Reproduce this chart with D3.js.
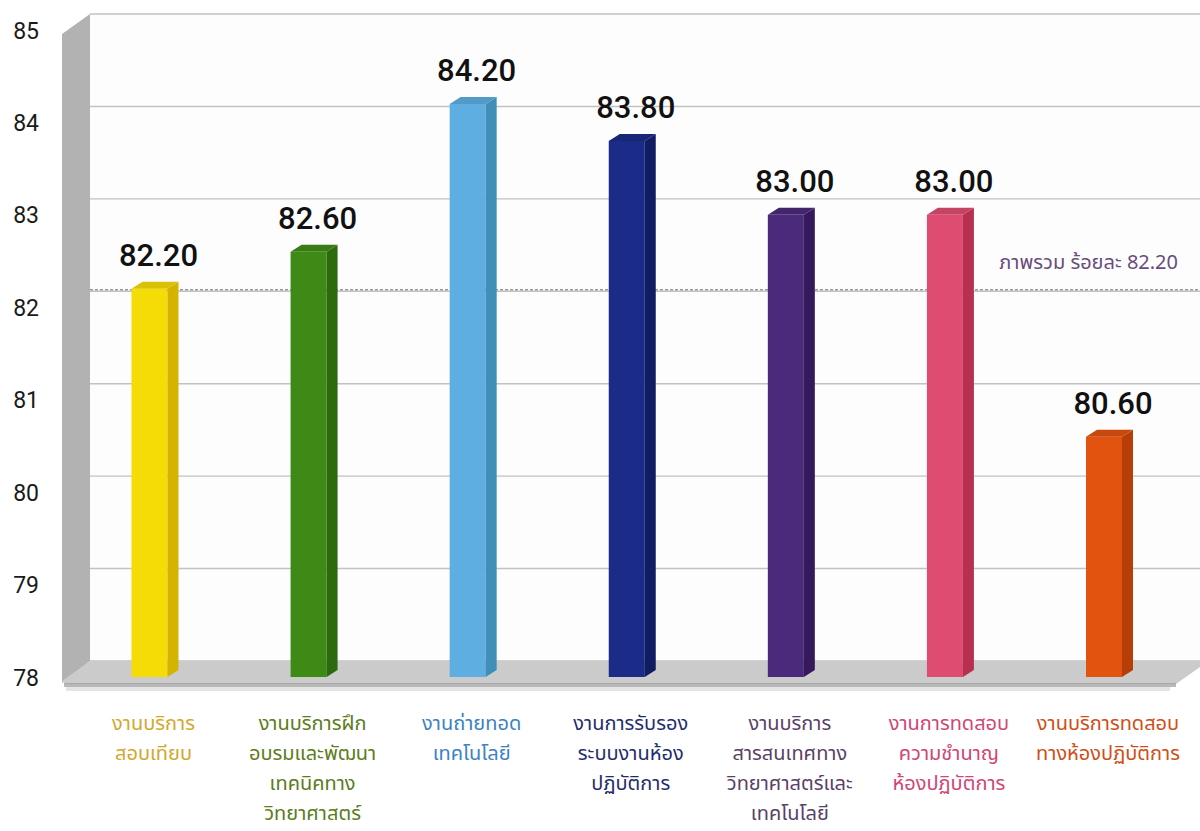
<!DOCTYPE html>
<html><head><meta charset="utf-8">
<script src="https://cdn.jsdelivr.net/npm/d3@7"></script>
<style>
html,body{margin:0;padding:0;background:#fff;}
svg{display:block;}
</style></head>
<body>
<svg id="chart" width="1200" height="831"></svg>
<script>
const categories = [
  ["งานบริการ","สอบเทียบ"],
  ["งานบริการฝึก","อบรมและพัฒนา","เทคนิคทาง","วิทยาศาสตร์"],
  ["งานถ่ายทอด","เทคโนโลยี"],
  ["งานการรับรอง","ระบบงานห้อง","ปฏิบัติการ"],
  ["งานบริการ","สารสนเทศทาง","วิทยาศาสตร์และ","เทคโนโลยี"],
  ["งานการทดสอบ","ความชำนาญ","ห้องปฏิบัติการ"],
  ["งานบริการทดสอบ","ทางห้องปฏิบัติการ"]
];
const values = [82.20, 82.60, 84.20, 83.80, 83.00, 83.00, 80.60];
const valueLabels = ["82.20","82.60","84.20","83.80","83.00","83.00","80.60"];
const yTicks = [78,79,80,81,82,83,84,85];
const overallValue = 82.20;
const overallLabel = "ภาพรวม ร้อยละ 82.20";
const frontColors = ["#f6dc06","#3f8a17","#5eaee2","#1b2b88","#4b2a7c","#df4c72","#e2530f"];
const sideColors  = ["#d4b400","#2c6a0e","#3f8fb8","#111c62","#36195c","#b8304f","#b83e08"];
const labelColors = ["#d2a82e","#5c7c1c","#3d82c4","#1f2d6d","#5a3f68","#cf4677","#cf4e16"];

const svg = d3.select("#chart");
const ids = categories.map((c,i)=>"c"+i);
const x = d3.scalePoint().domain(ids).range([149.5, 1104]);
const y = d3.scaleLinear().domain([78,85]).range([677, 30]);
const DX = 28, DY = -16;        // depth of walls
const bw = 36, bdx = 11, bdy = -7; // bar size and depth
const wallL = 62, wallR = 1200;
const thaiFont = "'Noto Sans Thai','Noto Sans','DejaVu Sans',sans-serif";

// left side wall
svg.append("polygon")
  .attr("points", [[wallL, y(85)+4],[wallL+DX, y(85)+DY],[wallL+DX, y(78)+DY],[wallL, y(78)+6]].map(p=>p.join(",")).join(" "))
  .attr("fill","#b2b2b2");
// back wall
svg.append("rect").attr("x", wallL+DX).attr("y", y(85)+DY).attr("width", wallR-wallL-DX).attr("height", y(78)-y(85))
  .attr("fill","#fdfdfd");
// gridlines on back wall
svg.append("g").selectAll("line").data(yTicks).join("line")
  .attr("x1", wallL+DX).attr("x2", wallR)
  .attr("y1", d=>y(d)+DY).attr("y2", d=>y(d)+DY)
  .attr("stroke","#c2c2c2").attr("stroke-width",1.4);
// floor
svg.append("polygon")
  .attr("points", [[wallL+DX, y(78)+DY],[wallR, y(78)+DY],[wallR, y(78)-10],[1176, y(78)+7],[wallL+3, y(78)+7],[wallL, y(78)+4]].map(p=>p.join(",")).join(" "))
  .attr("fill","#cbcbcb");
svg.append("rect").attr("x", wallL+2).attr("y", y(78)+6).attr("width", 1176-wallL-2).attr("height",4)
  .attr("fill","#9a9a9a").attr("opacity",0.7);
svg.append("rect").attr("x", wallL+4).attr("y", y(78)+10).attr("width", 1170-wallL-4).attr("height",4)
  .attr("fill","#d8d8d8").attr("opacity",0.7);

// overall reference dotted line
svg.append("line")
  .attr("x1", wallL+DX).attr("x2", wallR)
  .attr("y1", y(overallValue)+1).attr("y2", y(overallValue)+1)
  .attr("stroke","#6b6b7b").attr("stroke-width",1).attr("stroke-dasharray","3,2");
svg.append("text").attr("x",1178).attr("y",y(overallValue)-20)
  .attr("text-anchor","end")
  .attr("font-family",thaiFont)
  .attr("font-size",20).attr("fill","#6a4c7c")
  .text(overallLabel);

// bars
const bars = svg.append("g").selectAll("g").data(values).join("g");
bars.append("rect")
  .attr("x",(d,i)=>x(ids[i])-bw/2).attr("y",d=>y(d))
  .attr("width",bw).attr("height",d=>y(78)-y(d))
  .attr("fill",(d,i)=>frontColors[i]);
bars.append("polygon")
  .attr("points",(d,i)=>{const x0=x(ids[i])+bw/2, t=y(d), b=y(78);
    return [[x0,t],[x0+bdx,t+bdy],[x0+bdx,b+bdy],[x0,b]].map(p=>p.join(",")).join(" ");})
  .attr("fill",(d,i)=>sideColors[i]);
bars.append("polygon")
  .attr("points",(d,i)=>{const x0=x(ids[i])-bw/2, t=y(d);
    return [[x0,t],[x0+bdx,t+bdy],[x0+bw+bdx,t+bdy],[x0+bw,t]].map(p=>p.join(",")).join(" ");})
  .attr("fill",(d,i)=>d3.color(frontColors[i]).darker(0.35));
bars.append("text")
  .attr("x",(d,i)=>x(ids[i])+9).attr("y",d=>y(d)-23)
  .attr("text-anchor","middle")
  .attr("font-family","Roboto, 'Liberation Sans', sans-serif")
  .attr("font-weight",500).attr("font-size",31).attr("fill","#111")
  .text((d,i)=>valueLabels[i]);

// y axis labels
const yAxis = d3.axisLeft(y).tickValues(yTicks).tickSize(0).tickPadding(0).tickFormat(d3.format("d"));
const ag = svg.append("g").attr("transform","translate(39,0)").call(yAxis);
ag.select(".domain").remove();
ag.selectAll("text").attr("font-family","Roboto, 'Liberation Sans', sans-serif")
  .attr("font-size",23).attr("fill","#1a1a1a").attr("dy","0.35em");

// category labels: one text per category, one tspan per line
const cg = svg.append("g").selectAll("text").data(categories).join("text")
  .attr("x",(d,i)=>x(ids[i])+4).attr("y",730)
  .attr("text-anchor","middle")
  .attr("font-family",thaiFont)
  .attr("font-size",20).attr("fill",(d,i)=>labelColors[i]);
cg.each(function(lines){
  const tx = d3.select(this).attr("x");
  d3.select(this).selectAll("tspan").data(lines).join("tspan")
    .attr("x", tx).attr("dy",(l,j)=>j===0?0:30).text(l=>l);
});
</script>
</body></html>
